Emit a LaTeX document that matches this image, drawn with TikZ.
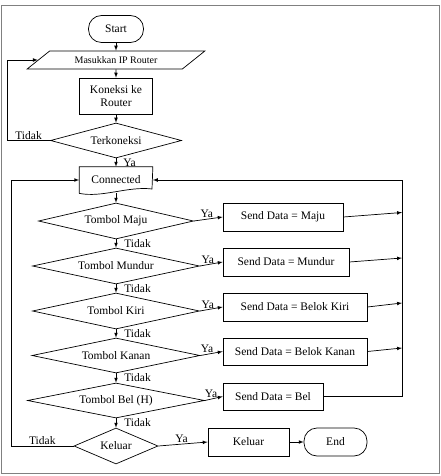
\documentclass[tikz,border=0pt]{standalone}
\usepackage{fontspec}
\setmainfont{Liberation Serif}
\usetikzlibrary{shapes.geometric}

\begin{document}
\begin{tikzpicture}[x=1pt, y=-1pt, >=latex, line width=.7pt,
	every node/.style={font=\fontsize{11.5}{13}\selectfont},
	prosesbox/.style={rectangle, draw=black, minimum height=28pt, inner sep=2pt},
	terminal/.style={rectangle, draw=black, rounded corners=13pt, minimum height=28pt},
	keputusan/.style={diamond, draw=black, aspect=3, inner sep=0pt, minimum height=36pt},
	ket/.style={inner sep=1pt}]
			\useasboundingbox (0,0) rectangle (441,476);
			\draw[gray, line width=1pt] (1,6) rectangle (439,473);
			
			\node[terminal, minimum width=55pt, minimum height=27pt] (start) at (116,29){Start};
			\node[trapezium, draw=black, trapezium left angle=26.57, trapezium right angle=153.43,
				trapezium stretches=true, minimum width=178pt, minimum height=18pt, inner sep=0pt,
				font=\fontsize{10}{12}\selectfont] (input) at (116,60){Masukkan IP Router};
			\node[prosesbox, minimum width=73pt, minimum height=36pt, align=center] (koneksi) at (116,96){Koneksi ke\\Router};
			\node[keputusan, minimum width=131pt, minimum height=35pt] (terkoneksi) at (116,140.5){Terkoneksi};
			\node[minimum width=73pt, minimum height=26pt] (connected) at (116,180){Connected};
			
			\node[keputusan, minimum width=155pt] (maju) at (116,221){Tombol Maju};
			\node[keputusan, minimum width=167pt] (mundur) at (116,266){Tombol Mundur};
			\node[keputusan, minimum width=167pt] (kiri) at (116,311){Tombol Kiri};
			\node[keputusan, minimum width=168pt, minimum height=35pt] (kanan) at (116,355.5){Tombol Kanan};
			\node[keputusan, minimum width=177pt, minimum height=35pt] (bel) at (116,400.5){Tombol Bel (H)};
			\node[keputusan, minimum width=84pt] (keluar) at (116,446){Keluar};
			
			\node[prosesbox, minimum width=120pt] (sMaju) at (283,217){Send Data = Maju};
			\node[prosesbox, minimum width=126pt] (sMundur) at (286,262){Send Data = Mundur};
			\node[prosesbox, minimum width=144pt] (sKiri) at (295,307){Send Data = Belok Kiri};
			\node[prosesbox, minimum width=144pt, minimum height=27pt] (sKanan) at (295,351.5){Send Data = Belok Kanan};
			\node[prosesbox, minimum width=100pt, minimum height=27pt] (sBel) at (273,396.5){Send Data = Bel};
			\node[prosesbox, minimum width=81pt] (kBox) at (248.5,442){Keluar};
			\node[terminal, minimum width=63pt] (end) at (335.5,442){End};
			
			% bentuk dokumen
			\draw (connected.south west) -- (connected.north west) -- (connected.north east) -- (152,189)
				.. controls (128,186) and (102,198) .. (connected.south west);
			
			\coordinate (railL1) at (7,0);
			\coordinate (railL2) at (11,0);
			\coordinate (railR) at (402,180);
			\coordinate (rMaju) at (402,212.5);
			\coordinate (rMundur) at (402,258);
			\coordinate (rKiri) at (402,303);
			\coordinate (rKanan) at (402,348);
			
			\path[->] (start) edge (input);
			\path[->] (input) edge (koneksi);
			\path[->] (koneksi) edge (terkoneksi);
			\path[->] (terkoneksi) edge node[ket, right=6pt]{Ya} (connected);
			\path[->] (connected) edge (maju);
			\path[->] (maju) edge node[ket, right=7pt]{Tidak} (mundur);
			\path[->] (mundur) edge node[ket, right=7pt]{Tidak} (kiri);
			\path[->] (kiri) edge node[ket, right=7pt]{Tidak} (kanan);
			\path[->] (kanan) edge node[ket, right=7pt]{Tidak} (bel);
			\path[->] (bel) edge node[ket, right=7pt]{Tidak} (keluar);
			
			\path[->] (maju.east) edge node[ket, above, pos=.45]{Ya} (sMaju.west);
			\path[->] (mundur.east) edge node[ket, above, pos=.35]{Ya} (sMundur.west);
			\path[->] (kiri.east) edge node[ket, above, pos=.35]{Ya} (sKiri.west);
			\path[->] (kanan.east) edge node[ket, above, pos=.3]{Ya} (sKanan.west);
			\path[->] (bel.east) edge node[ket, above, pos=.35]{Ya} (sBel.west);
			\path[->] (keluar.east) edge node[ket, above, pos=.47]{Ya} (kBox.west);
			\path[->] (kBox) edge (end);
			
			\path[->] (sMaju.east) edge (rMaju);
			\path[->] (sMundur.east) edge (rMundur);
			\path[->] (sKiri.east) edge (rKiri);
			\path[->] (sKanan.east) edge (rKanan);
			\draw[->] (sBel.east) -| (railR) -- (connected.east);
			
			\draw[->] (terkoneksi.west) -- node[ket, above]{Tidak} (terkoneksi.west -| railL1) |- (input.left side);
			\draw[->] (keluar.west) -- node[ket, above]{Tidak} (keluar.west -| railL2) |- (connected.west);
\end{tikzpicture}
\end{document}
